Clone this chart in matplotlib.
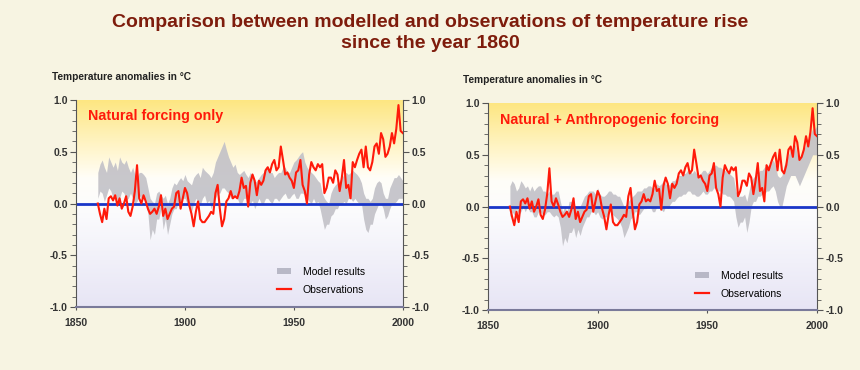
import numpy as np
import matplotlib
matplotlib.use("Agg")
import matplotlib.pyplot as plt
from matplotlib.colors import LinearSegmentedColormap
from matplotlib.patches import Patch
from matplotlib.lines import Line2D

# observed anomalies (deg C), one value per year 1860..2000
years = list(range(1860, 2001))
observations = [
    0.00, -0.10, -0.18, -0.05, -0.15, 0.05, 0.07, 0.03, 0.08, -0.02,
    0.05, -0.05, 0.00, 0.07, -0.08, -0.12, -0.03, 0.12, 0.37, 0.05,
    0.00, 0.08, 0.02, -0.05, -0.10, -0.08, -0.05, -0.10, -0.03, 0.08,
    -0.12, -0.05, -0.15, -0.10, -0.05, -0.03, 0.10, 0.12, -0.05, 0.05,
    0.15, 0.10, -0.02, -0.10, -0.22, -0.08, 0.02, -0.15, -0.18, -0.18,
    -0.15, -0.12, -0.08, -0.10, 0.10, 0.18, -0.05, -0.22, -0.15, 0.02,
    0.05, 0.12, 0.05, 0.07, 0.05, 0.12, 0.25, 0.15, 0.17, -0.03,
    0.20, 0.28, 0.22, 0.08, 0.22, 0.18, 0.22, 0.32, 0.35, 0.30,
    0.38, 0.42, 0.32, 0.35, 0.55, 0.42, 0.28, 0.30, 0.25, 0.22,
    0.15, 0.30, 0.32, 0.42, 0.18, 0.12, 0.00, 0.28, 0.40, 0.35,
    0.32, 0.38, 0.35, 0.38, 0.10, 0.15, 0.25, 0.25, 0.20, 0.32,
    0.28, 0.12, 0.25, 0.42, 0.15, 0.18, 0.05, 0.40, 0.35, 0.42,
    0.48, 0.52, 0.35, 0.55, 0.35, 0.32, 0.40, 0.55, 0.58, 0.48,
    0.68, 0.62, 0.45, 0.48, 0.55, 0.68, 0.58, 0.72, 0.95, 0.70,
    0.68,
]

# model ensemble range (natural forcing only), 1860..2000
natural_low = [
    0.05, 0.12, 0.10, 0.02, 0.08, 0.15, 0.12, 0.05, 0.10, 0.02,
    0.05, 0.12, 0.10, 0.03, 0.05, 0.10, 0.05, 0.00, 0.02, 0.08,
    0.05, 0.10, 0.00, -0.10, -0.35, -0.25, -0.30, -0.15, -0.15, -0.05,
    -0.25, -0.15, -0.30, -0.20, -0.10, -0.05, -0.05, 0.02, 0.00, 0.05,
    0.05, 0.00, -0.05, -0.08, 0.00, 0.05, 0.02, -0.02, 0.05, 0.08,
    0.00, 0.03, -0.05, 0.00, 0.05, 0.10, 0.10, 0.15, 0.15, 0.12,
    0.10, 0.05, 0.05, 0.08, 0.05, 0.00, 0.00, 0.05, 0.05, 0.00,
    0.00, 0.03, -0.05, 0.00, 0.05, 0.00, 0.00, 0.05, 0.05, 0.02,
    0.00, 0.05, 0.05, 0.02, 0.05, 0.08, 0.10, 0.05, 0.05, 0.08,
    0.10, 0.05, 0.05, 0.10, 0.10, 0.08, 0.05, 0.02, 0.00, 0.05,
    0.00, 0.02, -0.05, -0.15, -0.25, -0.20, -0.20, -0.12, -0.10, -0.05,
    -0.05, 0.00, 0.00, 0.02, 0.00, 0.05, 0.05, 0.02, 0.05, 0.02,
    0.00, 0.00, -0.15, -0.25, -0.28, -0.20, -0.20, -0.10, -0.05, 0.00,
    0.00, -0.05, -0.15, -0.12, -0.05, 0.00, 0.00, 0.02, 0.05, 0.05,
    0.05,
]
natural_high = [
    0.30, 0.38, 0.42, 0.35, 0.30, 0.45, 0.40, 0.35, 0.40, 0.32,
    0.45, 0.40, 0.38, 0.42, 0.35, 0.30, 0.35, 0.28, 0.25, 0.30,
    0.30, 0.28, 0.25, 0.15, 0.05, 0.02, 0.00, 0.10, 0.12, 0.08,
    0.05, 0.08, 0.00, 0.05, 0.15, 0.20, 0.18, 0.22, 0.25, 0.22,
    0.28, 0.22, 0.20, 0.18, 0.25, 0.28, 0.30, 0.25, 0.35, 0.32,
    0.30, 0.28, 0.25, 0.30, 0.40, 0.45, 0.50, 0.55, 0.60, 0.52,
    0.45, 0.40, 0.35, 0.38, 0.30, 0.28, 0.30, 0.32, 0.28, 0.25,
    0.30, 0.25, 0.20, 0.22, 0.25, 0.28, 0.30, 0.35, 0.35, 0.30,
    0.30, 0.25, 0.28, 0.30, 0.30, 0.35, 0.35, 0.30, 0.30, 0.35,
    0.40, 0.42, 0.45, 0.48, 0.50, 0.40, 0.35, 0.32, 0.30, 0.28,
    0.25, 0.22, 0.20, 0.10, 0.05, 0.02, 0.00, 0.10, 0.15, 0.18,
    0.20, 0.22, 0.25, 0.28, 0.30, 0.28, 0.30, 0.32, 0.30, 0.28,
    0.25, 0.20, 0.10, 0.05, 0.05, 0.02, 0.05, 0.15, 0.20, 0.22,
    0.20, 0.10, 0.05, 0.05, 0.15, 0.20, 0.25, 0.25, 0.28, 0.25,
    0.22,
]

# model ensemble range (natural + anthropogenic forcing), 1860..2000
combined_low = [
    -0.10, -0.05, -0.08, -0.02, -0.08, -0.05, 0.00, -0.05, 0.00, -0.05,
    -0.05, -0.10, -0.10, -0.05, -0.05, -0.08, -0.08, -0.05, -0.05, -0.08,
    -0.10, -0.08, -0.10, -0.20, -0.38, -0.30, -0.35, -0.25, -0.25, -0.20,
    -0.30, -0.22, -0.28, -0.20, -0.15, -0.10, -0.10, -0.05, -0.05, -0.08,
    -0.05, -0.10, -0.12, -0.10, -0.10, -0.05, -0.05, -0.08, -0.10, -0.12,
    -0.15, -0.20, -0.30, -0.25, -0.20, -0.12, -0.10, -0.05, -0.05, -0.08,
    -0.05, -0.02, -0.02, 0.00, 0.00, -0.05, -0.05, 0.00, 0.00, -0.03,
    -0.05, 0.00, -0.02, 0.02, 0.05, 0.05, 0.08, 0.10, 0.10, 0.12,
    0.12, 0.15, 0.15, 0.12, 0.12, 0.10, 0.10, 0.12, 0.15, 0.12,
    0.12, 0.15, 0.15, 0.18, 0.18, 0.15, 0.15, 0.12, 0.12, 0.10,
    0.10, 0.08, 0.05, -0.10, -0.20, -0.15, -0.15, -0.10, -0.25, -0.15,
    0.00, 0.05, 0.05, 0.10, 0.10, 0.12, 0.12, 0.15, 0.15, 0.18,
    0.20, 0.15, 0.05, 0.00, 0.00, 0.10, 0.20, 0.25, 0.30, 0.30,
    0.30, 0.25, 0.20, 0.25, 0.30, 0.35, 0.40, 0.45, 0.50, 0.50,
    0.50,
]
combined_high = [
    0.20, 0.25, 0.22, 0.15, 0.18, 0.25, 0.22, 0.18, 0.20, 0.15,
    0.20, 0.15, 0.18, 0.20, 0.20, 0.15, 0.15, 0.12, 0.15, 0.12,
    0.12, 0.15, 0.15, 0.05, -0.05, 0.00, -0.05, 0.05, 0.05, 0.02,
    -0.02, 0.00, 0.00, 0.05, 0.10, 0.12, 0.15, 0.15, 0.15, 0.12,
    0.18, 0.12, 0.10, 0.10, 0.12, 0.15, 0.15, 0.12, 0.12, 0.10,
    0.10, 0.05, 0.00, 0.02, 0.05, 0.08, 0.10, 0.12, 0.15, 0.15,
    0.15, 0.18, 0.18, 0.20, 0.20, 0.18, 0.18, 0.22, 0.20, 0.22,
    0.25, 0.22, 0.20, 0.22, 0.25, 0.25, 0.28, 0.30, 0.30, 0.32,
    0.32, 0.35, 0.35, 0.32, 0.35, 0.32, 0.30, 0.32, 0.35, 0.35,
    0.32, 0.35, 0.38, 0.40, 0.40, 0.38, 0.38, 0.36, 0.35, 0.33,
    0.32, 0.30, 0.28, 0.15, 0.10, 0.10, 0.10, 0.12, 0.05, 0.15,
    0.25, 0.28, 0.30, 0.32, 0.35, 0.35, 0.38, 0.40, 0.40, 0.42,
    0.45, 0.40, 0.30, 0.28, 0.30, 0.40, 0.45, 0.50, 0.55, 0.55,
    0.60, 0.50, 0.45, 0.50, 0.55, 0.60, 0.65, 0.70, 0.75, 0.75,
    0.78,
]

title = "Comparison between modelled and observations of temperature rise\nsince the year 1860"
panel_titles = ["Natural forcing only", "Natural + Anthropogenic forcing"]
y_label = "Temperature anomalies in \u00b0C"
x_ticks = [1850, 1900, 1950, 2000]
y_ticks = [-1.0, -0.5, 0.0, 0.5, 1.0]

plt.rcParams['font.family'] = ['Liberation Sans', 'DejaVu Sans']

bg = "#f7f4e2"
red = "#ff1a0a"
blue = "#1a36c8"
gray = "#c2c1c7"

fig = plt.figure(figsize=(8.6, 3.7), dpi=100, facecolor=bg)
fig.text(0.5, 0.91, title, ha='center', va='center', fontsize=14,
         fontweight='bold', color="#7e1c0c", linespacing=1.3)

grad = LinearSegmentedColormap.from_list(
    "bg", [(0.0, "#e7e5f5"), (0.45, "#fbfbfd"), (0.62, "#fffef8"),
           (0.8, "#fff3c0"), (1.0, "#fde680")])

positions = [[0.0884, 0.170, 0.380, 0.560], [0.5674, 0.162, 0.3826, 0.5595]]
bands = [(natural_low, natural_high), (combined_low, combined_high)]
leg_anchor = [(0.585, 0.24), (0.60, 0.235)]

for i in range(2):
    ax = fig.add_axes(positions[i])
    ax.set_xlim(1850, 2000)
    ax.set_ylim(-1, 1)
    ax.imshow(np.linspace(0, 1, 256).reshape(-1, 1), cmap=grad, origin='lower',
              extent=[1850, 2000, -1, 1], aspect='auto', zorder=0)
    lo, hi = bands[i]
    ax.fill_between(years, lo, hi, color=gray, alpha=0.9, lw=0, zorder=1)
    ax.axhline(0, color=blue, lw=2, zorder=2)
    ax.plot(years, observations, color=red, lw=1.5, zorder=3)

    ax.text(0.038, 0.92, panel_titles[i], transform=ax.transAxes, color=red,
            fontsize=10.3, fontweight='bold', ha='left', va='center')
    ax.text(-0.075, 1.11, y_label, transform=ax.transAxes, fontsize=7.3,
            fontweight='bold', color="#222222", ha='left', va='center')

    ax.set_xticks(x_ticks)
    ax.set_yticks(y_ticks)
    ax.set_yticks(np.arange(-1.0, 1.01, 0.1), minor=True)
    ax.set_yticklabels(["%.1f" % v for v in y_ticks])
    ax.tick_params(axis='y', which='both', left=True, right=True,
                   labelleft=True, labelright=True, direction='out',
                   labelsize=7.5, labelcolor="#333333", color="#555555", pad=2)
    ax.tick_params(axis='y', which='major', length=4)
    ax.tick_params(axis='y', which='minor', length=3)
    ax.tick_params(axis='x', length=2, labelsize=7.5, labelcolor="#333333",
                   color="#555555", pad=6)
    for lab in ax.get_xticklabels() + ax.get_yticklabels():
        lab.set_fontweight('bold')
    ax.spines['top'].set_visible(False)
    ax.spines['left'].set_color("#555555")
    ax.spines['right'].set_color("#555555")
    ax.spines['bottom'].set_color("#7a7a9a")
    ax.spines['bottom'].set_linewidth(1.5)

    handles = [Patch(facecolor="#b8b8c6", edgecolor='none'),
               Line2D([], [], color=red, lw=1.6)]
    ax.legend(handles, ["Model results", "Observations"], loc='upper left',
              bbox_to_anchor=leg_anchor[i], frameon=False, fontsize=7.5,
              handlelength=1.4, handleheight=0.6, labelspacing=0.75,
              handletextpad=1.1)

fig.savefig("out.png", dpi=100, facecolor=bg)
